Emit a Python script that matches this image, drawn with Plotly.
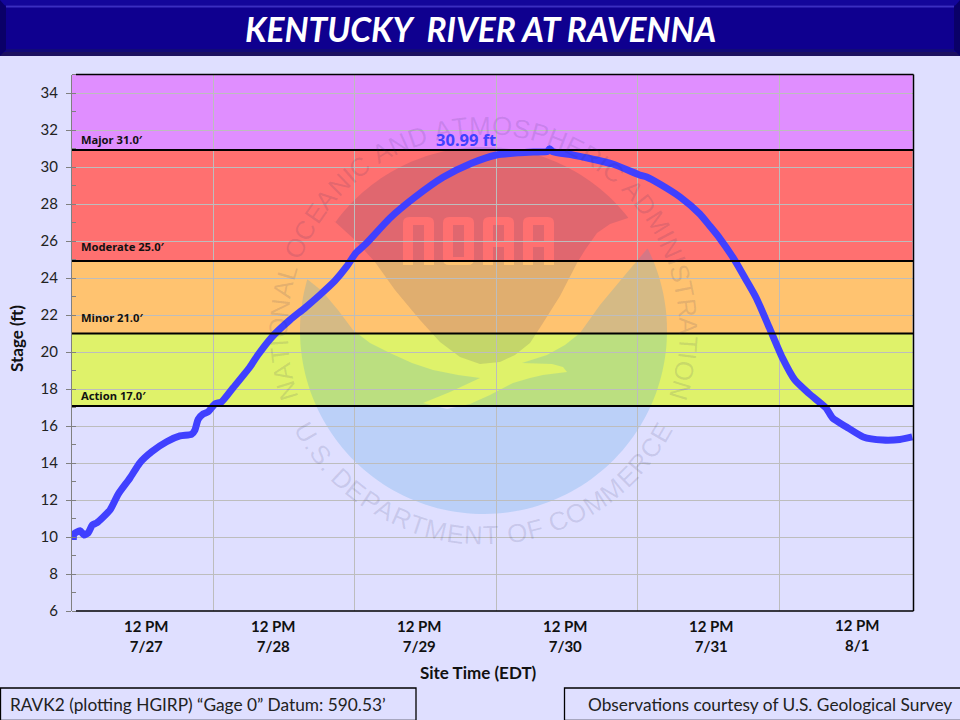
import numpy as np
import plotly.graph_objects as go
from datetime import datetime, timedelta

# ---------- data ----------
start_time = datetime(2022, 7, 27, 0, 0)
hours_since_start = [0.32, 0.44, 1.46, 2.13, 2.86, 3.54, 4.29, 6.54, 7.94, 9.93, 11.62, 13.6, 16.14, 18.39,
                     20.37, 20.93, 21.49, 22.34, 23.19, 24.32, 25.46, 27.37, 30.25, 31.6, 33.98, 37.03, 39.57,
                     42.1, 44.64, 46.63, 48.2, 50.01, 53.96, 58.2, 62.99, 67.8, 72.03, 75.98, 78.5, 80.7,
                     81.06, 81.57, 84.96, 87.83, 91.73, 96.3, 97.5, 99.7, 103.1, 106.5, 108.2, 109.85, 112.4,
                     114.25, 116.07, 118.3, 120.5, 122.6, 125.1, 127.9, 129.0, 131.3, 134.2, 137.5, 140.4, 142.5]
stage_ft = [9.84, 10.16, 10.34, 10.11, 10.23, 10.65, 10.76, 11.46, 12.32, 13.19, 14.02, 14.61, 15.15, 15.46,
            15.55, 15.78, 16.36, 16.65, 16.77, 17.19, 17.31, 18.05, 19.19, 19.84, 20.81, 21.73, 22.38,
            23.08, 23.84, 24.61, 25.35, 25.88, 27.23, 28.36, 29.44, 30.2, 30.65, 30.77, 30.81, 30.84,
            30.99, 30.83, 30.65, 30.46, 30.16, 29.57, 29.46, 29.08, 28.39, 27.46, 26.81, 26.16, 24.97,
            23.95, 22.92, 21.3, 19.68, 18.49, 17.73, 16.97, 16.43, 15.96, 15.41, 15.24, 15.27, 15.41]

band_names = ["Major 31.0′", "Moderate 25.0′", "Minor 21.0′", "Action 17.0′"]
band_lines = [30.92, 24.92, 21.0, 17.08]
band_tops = [35, 30.92, 24.92, 21.0]
band_colors = ["#E08EFF", "#FF7070", "#FFC370", "#DFF26A"]
band_label_px = [139, 246, 317, 395]

x_tick_labels = ["12 PM<br>7/27", "12 PM<br>7/28", "12 PM<br>7/29", "12 PM<br>7/30", "12 PM<br>7/31", "12 PM<br>8/1"]
x_tick_label_px = [146, 273, 419, 565, 711, 857]
x_tick_label_py = [636, 636, 636, 636, 636, 635]

title_text = "KENTUCKY  RIVER AT RAVENNA"
peak_label = "30.99 ft"
footer_left = "RAVK2 (plotting HGIRP) “Gage 0” Datum: 590.53’"
footer_right = "Observations courtesy of U.S. Geological Survey"

# ---------- layout helpers (page pixels to figure fractions) ----------
W, H = 960, 720
PL, PR, PT, PB = 72, 913.5, 74.5, 611
fx = lambda p: p / W
fy = lambda p: 1 - p / H

times = [start_time + timedelta(hours=h) for h in hours_since_start]
BG = "#DFDFFF"
LINE = "#4040FF"
SANS = "Lato"

shapes, annotations = [], []


def poly_path(points, close=True):
    s = "M" + " L".join(f"{fx(a):.5f},{fy(b):.5f}" for a, b in points)
    return s + (" Z" if close else "")


def rect(x0, y0, x1, y1, fill, layer="below", line=None):
    shapes.append(dict(type="rect", xref="paper", yref="paper", x0=fx(x0), x1=fx(x1), y0=fy(y0), y1=fy(y1),
                       fillcolor=fill, line=line or dict(width=0), layer=layer))


# ---------- header ----------
rect(0, 0, W, 56, "#0F008F")
rect(0, 0, W, 5, "#13069A")
rect(6, 5.5, 954, 7.5, "#3A2EC0")
rect(6, 49, 954, 52, "#120A78")
rect(0, 52, W, 56, "#1C1060")
shapes.append(dict(type="path", xref="paper", yref="paper", layer="below", line=dict(width=0), fillcolor="#0A0068",
                   path=poly_path([(0, 0), (6, 7), (6, 50), (0, 56)])))
shapes.append(dict(type="path", xref="paper", yref="paper", layer="below", line=dict(width=0), fillcolor="#0A0068",
                   path=poly_path([(960, 0), (954, 7), (954, 50), (960, 56)])))

# ---------- flood bands ----------
for top, low, col in zip(band_tops, band_lines, band_colors):
    shapes.append(dict(type="rect", xref="paper", yref="y", x0=fx(PL), x1=fx(PR - 1), y0=low, y1=top,
                       fillcolor=col, line=dict(width=0), layer="below"))

# ---------- NOAA watermark ----------
CX, CY, R = 483.5, 330.5, 183.5


def arc(a0, a1, n=60):
    """Points on the emblem circle; angles in degrees clockwise from the top."""
    t = np.radians(np.linspace(a0, a1, n))
    return [(CX + R * np.sin(v), CY - R * np.cos(v)) for v in t]


def rounded(x0, y0, x1, y1, r=6):
    return (f"M{fx(x0)},{fy(y1)} L{fx(x0)},{fy(y0 + r)} Q{fx(x0)},{fy(y0)} {fx(x0 + r)},{fy(y0)} "
            f"L{fx(x1 - r)},{fy(y0)} Q{fx(x1)},{fy(y0)} {fx(x1)},{fy(y0 + r)} L{fx(x1)},{fy(y1)} Z")


# upper (dark) part
dark_edge = [(628, 218), (610, 224), (597, 233), (585, 250), (577, 263), (560, 296), (543, 323), (530, 343),
             (515, 355), (500, 362), (480, 364), (460, 357), (440, 342), (420, 320), (395, 290), (375, 262),
             (355, 240), (333, 220)]
dark_arc = arc(np.degrees(np.arctan2(333 - CX, CY - 220)), np.degrees(np.arctan2(628 - CX, CY - 218)))
dark_path = poly_path(dark_edge + dark_arc)
# letters are cut out of the dark part with the even-odd rule
letter_left = [403, 443, 483, 523]
L_W = 31
dark_path += " " + rounded(403, 217, 434, 265)
dark_path += " " + poly_path([(413, 265), (413, 225), (424, 225), (424, 265)])
dark_path += (f" M{fx(449)},{fy(217)} L{fx(468)},{fy(217)} Q{fx(474)},{fy(217)} {fx(474)},{fy(223)} "
              f"L{fx(474)},{fy(259)} Q{fx(474)},{fy(265)} {fx(468)},{fy(265)} L{fx(449)},{fy(265)} "
              f"Q{fx(443)},{fy(265)} {fx(443)},{fy(259)} L{fx(443)},{fy(223)} Q{fx(443)},{fy(217)} {fx(449)},{fy(217)} Z")
dark_path += " " + poly_path([(453, 225), (464, 225), (464, 257), (453, 257)])
for lx in letter_left[2:]:
    dark_path += " " + rounded(lx, 217, lx + L_W, 265)
    dark_path += " " + poly_path([(lx + 10, 225), (lx + 21, 225), (lx + 21, 241), (lx + 10, 241)])
    dark_path += " " + poly_path([(lx + 10, 247), (lx + 21, 247), (lx + 21, 265), (lx + 10, 265)])
shapes.append(dict(type="path", xref="paper", yref="paper", layer="below", line=dict(width=0),
                   fillcolor="rgba(48,52,105,0.15)", path=dark_path, fillrule="evenodd"))

# lower (blue) part
blue_edge = [(307, 279), (322, 291), (338, 310), (353, 330), (370, 343), (390, 353), (412, 363), (433, 370),
             (458, 375), (480, 378), (450, 392), (423, 403), (447, 409), (470, 404), (490, 395), (513, 383),
             (530, 378), (543, 375), (567, 372), (563, 367), (552, 364), (522, 363), (547, 355), (565, 345),
             (580, 333), (600, 305), (625, 275), (647, 249)]
blue_arc = arc(np.degrees(np.arctan2(647 - CX, CY - 249)), 360 + np.degrees(np.arctan2(307 - CX, CY - 279)), 120)
shapes.append(dict(type="path", xref="paper", yref="paper", layer="below", line=dict(width=0),
                   fillcolor="rgba(43,148,220,0.20)", path=poly_path(blue_edge + blue_arc)))

# curved seal text, one rotated letter at a time
ARIAL = {"A": .67, "B": .67, "C": .72, "D": .72, "E": .67, "F": .61, "H": .72, "I": .28, "L": .56, "M": .83, "N": .72,
         "O": .78, "P": .67, "R": .72, "S": .67, "T": .61, "U": .72, ".": .28, " ": .28}


def seal_text(text, a0, a1, bottom):
    w = [ARIAL[c] for c in text]
    used = 0.0
    inner = sum(w) - (w[0] + w[-1]) / 2
    for i, c in enumerate(text):
        if i > 0:
            used += (w[i - 1] + w[i]) / 2
        a = a0 + (a1 - a0) * used / inner
        if c == " ":
            continue
        t = np.radians(a)
        px = CX + 205 * np.sin(t)
        py = CY + 205 * np.cos(t) if bottom else CY - 205 * np.cos(t)
        annotations.append(dict(text=c, xref="paper", yref="paper", x=fx(px), y=fy(py), showarrow=False,
                                textangle=-a if bottom else a, xanchor="center", yanchor="middle",
                                font=dict(family="Liberation Sans", size=26, color="rgba(40,44,100,0.13)")))


seal_text("NATIONAL OCEANIC AND ATMOSPHERIC ADMINISTRATION", -107, 107, False)
seal_text("U.S. DEPARTMENT OF COMMERCE", -60, 60, True)

# ---------- threshold lines and plot frame ----------
for val in band_lines:
    shapes.append(dict(type="line", xref="paper", yref="y", x0=fx(PL), x1=fx(PR), y0=val, y1=val,
                       line=dict(color="#000000", width=2), layer="above"))
for seg in [(76, PT, PR, PT), (PR, PT, PR, PB), (76, PB, PR, PB)]:
    shapes.append(dict(type="line", xref="paper", yref="paper", x0=fx(seg[0]), y0=fy(seg[1]), x1=fx(seg[2]), y1=fy(seg[3]),
                       line=dict(color="#000000", width=1.5), layer="above"))

# ---------- footer boxes ----------
rect(0.5, 688, 416, 720.5, "rgba(0,0,0,0)", "above", dict(color="#000000", width=1.3))
rect(564.5, 688, 961, 720.5, "rgba(0,0,0,0)", "above", dict(color="#000000", width=1.3))


def label(text, px, py, size, bold=False, color="#111111", anchor="center", family=SANS, italic=False, angle=0):
    t = f"<b>{text}</b>" if bold else text
    annotations.append(dict(text=t, xref="paper", yref="paper", x=fx(px), y=fy(py), showarrow=False,
                            xanchor=anchor, yanchor="middle", textangle=angle, align="center",
                            font=dict(family=family, size=size, color=color, style="italic" if italic else "normal")))


label(title_text, 480.5, 29, 33.5, bold=True, color="#FFFFFF", italic=True)
for name, py in zip(band_names, band_label_px):
    label(name, 79, py, 11.2, bold=True, color="#111111", anchor="left", family="Noto Sans")
label(peak_label, 465.5, 139, 16.5, bold=True, color=LINE, family="Noto Sans")
for txt, px, py in zip(x_tick_labels, x_tick_label_px, x_tick_label_py):
    label(txt, px, py, 15, bold=True, color="#111111")
label("Site Time (EDT)", 478.5, 672, 17, bold=True)
label("Stage (ft)", 16, 339, 17, bold=True, angle=-90)
label(footer_left, 8, 704, 17.3, anchor="left", color="#222222")
label(footer_right, 586, 704, 17.3, anchor="left", color="#222222")

# ---------- figure ----------
fig = go.Figure(go.Scatter(x=times, y=stage_ft, mode="lines", line=dict(color=LINE, width=7, shape="spline", smoothing=0.6),
                           hoverinfo="skip"))
fig.update_layout(
    width=W, height=H, margin=dict(l=0, r=0, t=0, b=0, autoexpand=False), paper_bgcolor=BG, plot_bgcolor="rgba(0,0,0,0)",
    showlegend=False, shapes=shapes, annotations=annotations,
    xaxis=dict(domain=[fx(PL), fx(PR)], type="date", range=[datetime(2022, 7, 27, 0, 6), datetime(2022, 8, 1, 22, 43)],
               tick0="2022-07-27", dtick=86400000, showgrid=True, gridcolor="#BDBDBD", gridwidth=1, automargin=False,
               showticklabels=False, ticks="", zeroline=False, showline=False),
    yaxis=dict(domain=[fy(PB), fy(PT)], range=[6, 35], tick0=6, dtick=2, showgrid=True, gridcolor="#BDBDBD", gridwidth=1.2,
               ticks="outside", ticklen=5, tickcolor="#808080", tickwidth=1.3, showline=True, linecolor="#808080",
               linewidth=1.3, zeroline=False, tickfont=dict(family=SANS, size=15, color="#222222"),
               ticklabelstandoff=5, automargin=False,
               minor=dict(dtick=1, ticks="inside", ticklen=4, tickcolor="#808080", tickwidth=1.3, showgrid=False)),
)
fig.write_html("out.html", config={"displayModeBar": False}, post_script="document.body.style.margin='0';")
